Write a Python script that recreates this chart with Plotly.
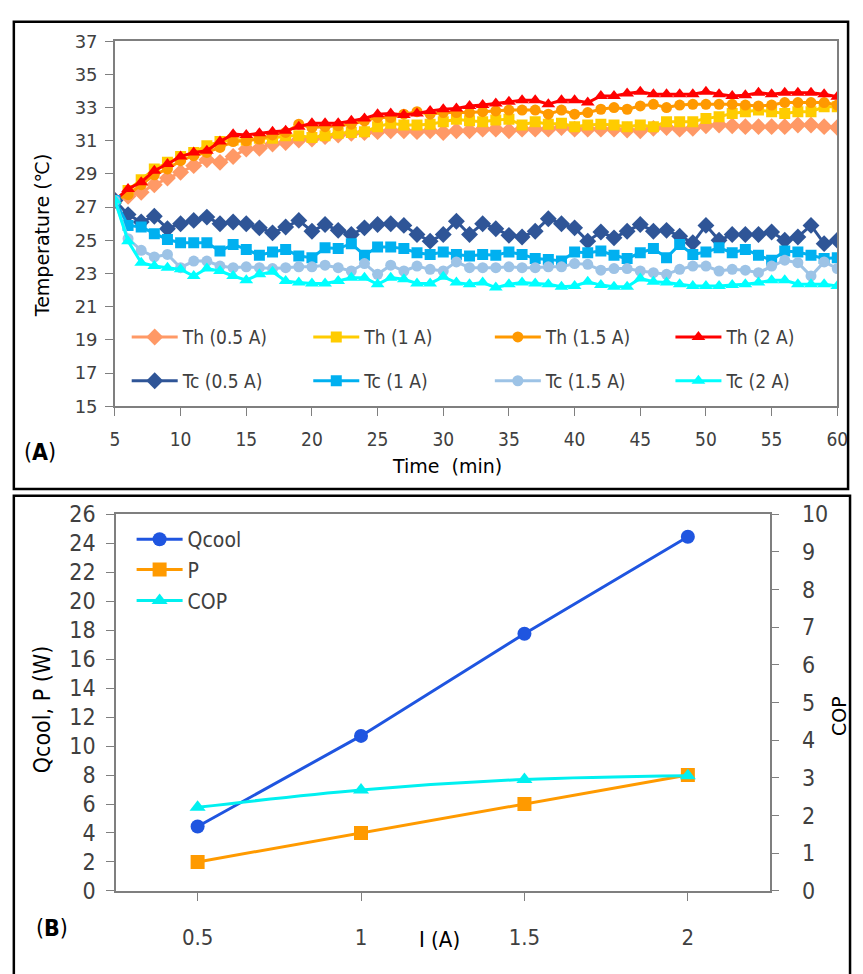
import plotly.graph_objects as go

W, H = 863, 974

# ---- Panel A: temperature vs time ----
time_min = list(range(5, 61))

th_05 = [27.4, 27.65, 27.9, 28.35, 28.75, 29.1, 29.5, 29.85, 29.7, 30.05, 30.5, 30.55, 30.8, 30.9,
         31.05, 31.1, 31.25, 31.35, 31.45, 31.5, 31.55, 31.6, 31.6, 31.55, 31.6, 31.5, 31.6, 31.6,
         31.7, 31.7, 31.6, 31.7, 31.7, 31.7, 31.8, 31.7, 31.7, 31.7, 31.7, 31.65, 31.6, 31.75, 31.8,
         31.7, 31.75, 31.9, 31.95, 31.9, 31.85, 31.85, 31.85, 31.85, 31.95, 31.95, 31.85, 31.8]
th_1 = [27.4, 28.0, 28.65, 29.3, 29.7, 30.05, 30.3, 30.7, 30.95, 31.05, 31.05, 31.15, 31.15, 31.3,
        31.3, 31.2, 31.3, 31.45, 31.5, 31.55, 31.85, 32.05, 31.95, 31.95, 32.0, 32.15, 32.3, 32.2,
        32.15, 32.25, 32.3, 31.95, 32.15, 32.0, 32.05, 31.85, 31.95, 32.0, 31.95, 31.85, 31.95, 31.85,
        32.15, 32.15, 32.15, 32.35, 32.45, 32.65, 32.75, 32.85, 32.75, 32.65, 32.75, 32.75, 33.05, 33.05]
th_15 = [27.4, 27.75, 28.35, 28.95, 29.3, 29.8, 30.1, 30.3, 30.6, 30.95, 31.0, 31.1, 31.35, 31.5,
         32.0, 31.8, 31.85, 31.9, 32.0, 32.2, 32.4, 32.4, 32.6, 32.75, 32.6, 32.7, 32.7, 32.7, 32.75,
         32.8, 32.85, 32.85, 32.85, 32.6, 32.85, 32.6, 32.7, 32.9, 33.0, 32.9, 33.1, 33.2, 33.0, 33.15,
         33.2, 33.2, 33.2, 33.2, 33.15, 33.1, 33.15, 33.3, 33.3, 33.3, 33.3, 33.15]
th_2 = [27.4, 28.1, 28.5, 29.2, 29.6, 30.05, 30.3, 30.4, 30.95, 31.4, 31.35, 31.45, 31.55, 31.6,
        31.85, 32.05, 32.05, 32.05, 32.2, 32.35, 32.6, 32.65, 32.55, 32.65, 32.8, 32.9, 32.95, 33.1,
        33.15, 33.25, 33.35, 33.45, 33.45, 33.2, 33.45, 33.45, 33.3, 33.7, 33.7, 33.85, 33.95, 33.8,
        33.8, 33.8, 33.8, 33.95, 33.8, 33.7, 33.75, 33.9, 33.8, 33.9, 33.9, 33.9, 33.8, 33.65]

tc_05 = [27.4, 26.55, 26.1, 26.45, 25.7, 26.0, 26.2, 26.4, 26.0, 26.1, 26.0, 25.75, 25.45, 25.8,
         26.2, 25.55, 25.95, 25.6, 25.35, 25.75, 25.95, 26.0, 25.9, 25.35, 24.95, 25.35, 26.15, 25.35,
         26.0, 25.7, 25.3, 25.2, 25.55, 26.3, 26.0, 25.75, 24.95, 25.5, 25.15, 25.55, 25.95, 25.55,
         25.6, 25.25, 24.85, 25.9, 25.0, 25.35, 25.35, 25.35, 25.5, 25.0, 25.2, 25.9, 24.8, 25.0]
tc_1 = [27.4, 25.9, 25.8, 25.4, 25.05, 24.85, 24.85, 24.85, 24.35, 24.75, 24.45, 24.1, 24.3, 24.45,
        24.05, 23.95, 24.55, 24.5, 24.8, 24.1, 24.6, 24.6, 24.5, 24.25, 24.15, 24.3, 24.15, 24.05,
        24.15, 24.1, 24.3, 24.15, 23.9, 23.85, 23.75, 24.3, 24.25, 24.35, 24.1, 23.9, 24.25, 24.5,
        23.95, 24.75, 24.15, 24.3, 24.55, 24.25, 24.45, 24.1, 23.8, 24.35, 24.3, 24.1, 23.9, 23.95]
tc_15 = [27.4, 25.1, 24.4, 24.0, 24.15, 23.35, 23.75, 23.75, 23.45, 23.35, 23.4, 23.35, 23.3, 23.35,
         23.4, 23.4, 23.5, 23.35, 23.15, 23.6, 22.95, 23.5, 23.15, 23.45, 23.25, 23.15, 23.7, 23.35,
         23.35, 23.35, 23.4, 23.35, 23.35, 23.4, 23.4, 23.6, 23.55, 23.2, 23.3, 23.3, 23.15, 23.05,
         22.95, 23.25, 23.45, 23.45, 23.15, 23.25, 23.2, 23.05, 23.45, 23.8, 23.65, 22.85, 23.7, 23.3]
tc_2 = [27.4, 24.95, 23.65, 23.45, 23.35, 23.25, 22.85, 23.3, 23.15, 22.85, 22.6, 22.95, 23.1, 22.55,
        22.45, 22.4, 22.4, 22.55, 22.75, 22.75, 22.35, 22.75, 22.65, 22.4, 22.4, 22.8, 22.45, 22.35,
        22.45, 22.15, 22.35, 22.45, 22.4, 22.35, 22.2, 22.25, 22.5, 22.3, 22.2, 22.2, 22.7, 22.5,
        22.45, 22.35, 22.25, 22.25, 22.25, 22.3, 22.35, 22.45, 22.6, 22.6, 22.35, 22.35, 22.35, 22.25]

temp_ticks = list(range(15, 38, 2))
time_ticks = list(range(5, 61, 5))

# ---- Panel B: cooling capacity, power and COP vs current ----
current_a = [0.5, 1.0, 1.5, 2.0]
q_cool = [4.45, 10.7, 17.75, 24.45]
power_w = [2.0, 4.0, 6.0, 8.0]
cop = [2.22, 2.68, 2.96, 3.06]

NARROW = "DejaVu Sans Condensed, Liberation Sans Narrow, Roboto, sans-serif"
TAHOMA = "DejaVu Sans, Verdana, sans-serif"
GREY_TXT = "#404040"
AX = "#7f7f7f"


def px(x):
    return x / W


def py(y):
    return 1 - y / H


def nfont(size, color=GREY_TXT):
    return dict(family=NARROW, size=size, color=color)


fig = go.Figure()

# name, values, colour, symbol, size, legend sample left edge (px), legend row y (px)
th_series = [
    ("Th (0.5 A)", th_05, "#FF9966", "diamond", 13, 136, 333),
    ("Th (1 A)", th_1, "#FFCC00", "square", 11, 321, 333),
    ("Th (1.5 A)", th_15, "#FF9900", "circle", 11, 506, 333),
    ("Th (2 A)", th_2, "#FF0000", "triangle-up", 12, 690, 333),
]
tc_series = [
    ("Tc (0.5 A)", tc_05, "#2F5597", "diamond", 13, 136, 378),
    ("Tc (1 A)", tc_1, "#00B0F0", "square", 11, 321, 378),
    ("Tc (1.5 A)", tc_15, "#9DC3E6", "circle", 11, 506, 378),
    ("Tc (2 A)", tc_2, "#00FFFF", "triangle-up", 12, 690, 378),
]

legends = {}
k = 1
for name, vals, col, sym, size, lx, ly in th_series + tc_series:
    key = "legend" if k == 1 else f"legend{k}"
    fig.add_trace(go.Scatter(
        x=time_min, y=vals, name=name, mode="lines+markers",
        line=dict(color=col, width=3),
        marker=dict(symbol=sym, size=size, color=col),
        xaxis="x", yaxis="y", legend=key,
    ))
    legends[key] = dict(x=px(lx - 12), y=py(ly), xanchor="left", yanchor="middle",
                        bgcolor="rgba(0,0,0,0)", itemwidth=46, font=nfont(19))
    k += 1

bottom_series = [
    ("Qcool", current_a, q_cool, "#1F55E0", "circle", "y2", "linear", 541),
    ("P", current_a, power_w, "#FF9A00", "square", "y2", "linear", 572),
    ("COP", current_a, cop, "#00F0F0", "triangle-up", "y3", "spline", 604),
]
for name, xs, ys, col, sym, yax, shape, ly in bottom_series:
    key = f"legend{k}"
    fig.add_trace(go.Scatter(
        x=xs, y=ys, name=name, mode="lines+markers",
        line=dict(color=col, width=3, shape=shape),
        marker=dict(symbol=sym, size=14, color=col),
        xaxis="x2", yaxis=yax, legend=key))
    legends[key] = dict(x=px(137 - 8), y=py(ly), xanchor="left", yanchor="middle",
                        bgcolor="rgba(0,0,0,0)", itemwidth=46, font=nfont(21))
    k += 1

axis_common = dict(showgrid=False, zeroline=False, ticks="outside", ticklen=8,
                   tickcolor=AX, linecolor=AX, linewidth=1.5, showline=True)

fig.update_layout(
    width=W, height=H, margin=dict(l=0, r=0, t=0, b=0),
    paper_bgcolor="white", plot_bgcolor="white",
    xaxis=dict(domain=[px(112), px(848)], range=[5, 60], tickvals=time_ticks, anchor="y",
               tickfont=nfont(19), ticklabelstandoff=7, mirror=True, **axis_common),
    yaxis=dict(domain=[py(404), py(29)], range=[15, 37], tickvals=temp_ticks, anchor="x",
               tickfont=dict(family=TAHOMA, size=18, color=GREY_TXT), ticklabelstandoff=4,
               mirror=True, **axis_common),
    xaxis2=dict(domain=[px(113), px(779)], range=[0.25, 2.25], tickvals=[0.5, 1, 1.5, 2],
                ticktext=["0.5", "1", "1.5", "2"], anchor="y2",
                tickfont=nfont(22), ticklabelstandoff=18, mirror=True, **axis_common),
    yaxis2=dict(domain=[py(902), py(515)], range=[0, 26], tickvals=list(range(0, 27, 2)), anchor="x2",
                tickfont=nfont(23), ticklabelstandoff=6, **axis_common),
    yaxis3=dict(range=[0, 10], tickvals=list(range(0, 11)), overlaying="y2", side="right", anchor="x2",
                tickfont=nfont(23), ticklabelstandoff=18, **axis_common),
    showlegend=True,
    **legends,
)

# panel frames
fig.add_shape(type="rect", xref="paper", yref="paper", x0=px(9), x1=px(859), y0=py(489), y1=py(9),
              line=dict(color="black", width=2.5))
fig.add_shape(type="rect", xref="paper", yref="paper", x0=px(9), x1=px(861), y0=py(1000), y1=py(496),
              line=dict(color="black", width=2.5))

ann = [
    dict(text="Temperature (\u2103)", x=px(38), y=py(228), textangle=-90,
         font=dict(family=TAHOMA, size=19, color="black")),
    dict(text="Time  (min)", x=px(450), y=py(465), font=dict(family=TAHOMA, size=19, color="black")),
    dict(text="(<b>A</b>)", x=px(36), y=py(451), font=nfont(23, "black")),
    dict(text="Qcool, P (W)", x=px(38), y=py(715), textangle=-90,
         font=dict(family=NARROW, size=23, color="black")),
    dict(text="COP", x=px(849), y=py(722), textangle=-90,
         font=dict(family=TAHOMA, size=19, color="black")),
    dict(text="I (A)", x=px(443), y=py(952), font=nfont(22, "black")),
    dict(text="(<b>B</b>)", x=px(48), y=py(940), font=nfont(23, "black")),
]
for a in ann:
    fig.add_annotation(xref="paper", yref="paper", showarrow=False, xanchor="center", yanchor="middle", **a)

fig.write_html("out.html")
